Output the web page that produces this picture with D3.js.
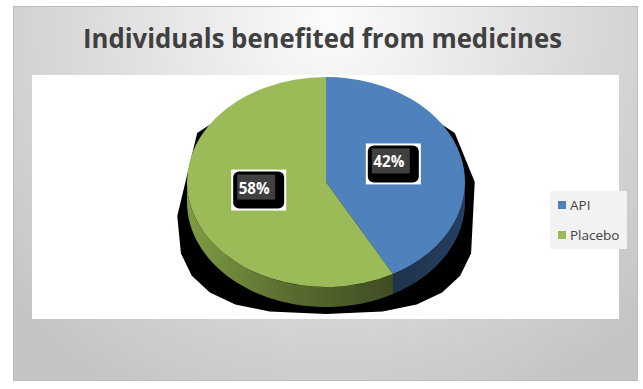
<!DOCTYPE html>
<html>
<head>
<meta charset="utf-8">
<script src="https://cdn.jsdelivr.net/npm/d3@7"></script>
<style>
  html, body { margin: 0; padding: 0; background: #fff; }
  svg { display: block; }
</style>
</head>
<body>
<script>
// chart data
const categories = ["API", "Placebo"];
const values = [42, 58];
const labels = ["42%", "58%"];
const title = "Individuals benefited from medicines";

const width = 643;
const height = 389;

// pie geometry (3D look: flattened ellipse + side wall)
const cx = 326, cy = 182;
const rx = 139, ry = 105;
const depth = 20;

const color = d3.scaleOrdinal()
    .domain(categories)
    .range(["#4F81BD", "#9BBB59"]);

const sideColor = d3.scaleOrdinal()
    .domain(categories)
    .range(["url(#sideBlue)", "url(#sideGreen)"]);

const svg = d3.select("body").append("svg")
    .attr("width", width)
    .attr("height", height)
    .attr("viewBox", [0, 0, width, height]);

const defs = svg.append("defs");

const frameGrad = defs.append("radialGradient")
    .attr("id", "frameGrad")
    .attr("gradientUnits", "userSpaceOnUse")
    .attr("cx", 330).attr("cy", 20).attr("r", 430);
frameGrad.append("stop").attr("offset", 0).attr("stop-color", "#fcfcfc");
frameGrad.append("stop").attr("offset", 0.55).attr("stop-color", "#dcdcdc");
frameGrad.append("stop").attr("offset", 1).attr("stop-color", "#c4c4c4");

const greenSide = defs.append("linearGradient")
    .attr("id", "sideGreen")
    .attr("gradientUnits", "userSpaceOnUse")
    .attr("x1", cx - rx).attr("x2", cx + 80).attr("y1", 0).attr("y2", 0);
greenSide.append("stop").attr("offset", 0).attr("stop-color", "#7f9c45");
greenSide.append("stop").attr("offset", 0.45).attr("stop-color", "#5a6e30");
greenSide.append("stop").attr("offset", 1).attr("stop-color", "#3c4821");

const blueSide = defs.append("linearGradient")
    .attr("id", "sideBlue")
    .attr("gradientUnits", "userSpaceOnUse")
    .attr("x1", cx + 60).attr("x2", cx + rx).attr("y1", 0).attr("y2", 0);
blueSide.append("stop").attr("offset", 0).attr("stop-color", "#1d3149");
blueSide.append("stop").attr("offset", 1).attr("stop-color", "#263f61");

// outer frame and plot area
svg.append("rect")
    .attr("x", 13.5).attr("y", 6.5)
    .attr("width", 624).attr("height", 374)
    .attr("fill", "url(#frameGrad)")
    .attr("stroke", "#bcbcbc")
    .attr("stroke-width", 1);

svg.append("rect")
    .attr("x", 32).attr("y", 75)
    .attr("width", 587).attr("height", 244)
    .attr("fill", "#ffffff");

// title
svg.append("text")
    .attr("x", 322.5)
    .attr("y", 48)
    .attr("text-anchor", "middle")
    .attr("fill", "#404040")
    .attr("font-family", "'Open Sans', 'Noto Sans', sans-serif")
    .attr("font-weight", "bold")
    .attr("font-size", 26)
    .attr("textLength", 479)
    .attr("lengthAdjust", "spacingAndGlyphs")
    .text(title);

// shadow behind the pie (coarse upper outline, smoother lower outline)
const pt = (a, r1, r2, c) => [cx + r1 * Math.sin(a), c - r2 * Math.cos(a)];
const shadowAngles = [0, 30, 60, 90].concat(d3.range(105, 270, 15), [270, 300, 330]);
const shadowPts = shadowAngles.map(deg => {
    const a = deg * Math.PI / 180;
    const s = Math.sin(a), c = Math.cos(a);
    const srx = rx * 1.07;
    if (c >= 0) return [cx + srx * s, cy - 98 * c];
    const e = 2 / 2.8;
    const sx = Math.sign(s) * Math.pow(Math.abs(s), e);
    const sy = Math.pow(Math.abs(c), e);
    return [cx + srx * sx, cy + 34 + 98 * sy];
});
svg.append("path")
    .attr("d", d3.line()(shadowPts) + "Z")
    .attr("fill", "#000");

const pie = d3.pie().sort(null).value(d => d.value);
const arcs = pie(categories.map((c, i) => ({ name: c, value: values[i] })));

// side walls (front half only)
const sidePath = d => {
    const a0 = Math.max(d.startAngle, Math.PI / 2);
    const a1 = Math.min(d.endAngle, 3 * Math.PI / 2);
    if (a0 >= a1) return null;
    const steps = d3.range(0, 41).map(i => a0 + (a1 - a0) * i / 40);
    const top = steps.map(a => pt(a, rx, ry, cy));
    const bottom = steps.slice().reverse().map(a => pt(a, rx, ry, cy + depth));
    return d3.line()(top.concat(bottom)) + "Z";
};

svg.append("g")
    .selectAll("path")
    .data(arcs)
    .join("path")
    .attr("d", sidePath)
    .attr("fill", d => sideColor(d.data.name));

// top face: d3.arc squashed vertically
const arc = d3.arc().innerRadius(0).outerRadius(rx);
svg.append("g")
    .attr("transform", `translate(${cx},${cy}) scale(1,${ry / rx})`)
    .selectAll("path")
    .data(arcs)
    .join("path")
    .attr("d", arc)
    .attr("fill", d => color(d.data.name));

// data labels
const boxW = 55, boxH = 41;
const lab = svg.append("g")
    .selectAll("g")
    .data(arcs)
    .join("g")
    .attr("transform", d => {
        const [x, y] = arc.centroid(d);
        return `translate(${cx + x - boxW / 2},${cy + y * ry / rx - 5 - boxH / 2})`;
    });

lab.append("rect")
    .attr("width", boxW).attr("height", boxH)
    .attr("fill", "#fff");
lab.append("rect")
    .attr("x", 2).attr("y", 2)
    .attr("width", boxW - 4).attr("height", boxH - 4)
    .attr("rx", 6)
    .attr("fill", "#000");
lab.append("rect")
    .attr("x", 6).attr("y", 5)
    .attr("width", 38).attr("height", 25)
    .attr("fill", "#404040");
lab.append("text")
    .attr("x", 23)
    .attr("y", 24)
    .attr("text-anchor", "middle")
    .attr("fill", "#fff")
    .attr("font-family", "'Open Sans', 'Noto Sans', sans-serif")
    .attr("font-weight", "bold")
    .attr("font-size", 16)
    .attr("textLength", 31)
    .attr("lengthAdjust", "spacingAndGlyphs")
    .text((d, i) => labels[i]);

// legend
const legend = svg.append("g").attr("transform", "translate(550,191)");
legend.append("rect")
    .attr("width", 77).attr("height", 58)
    .attr("fill", "#f2f2f2");

const item = legend.selectAll("g")
    .data(categories)
    .join("g")
    .attr("transform", (d, i) => `translate(8,${14 + i * 30})`);

item.append("rect")
    .attr("x", 0).attr("y", -4)
    .attr("width", 8).attr("height", 8)
    .attr("fill", d => color(d));

item.append("text")
    .attr("x", 12)
    .attr("y", 5)
    .attr("fill", "#404040")
    .attr("font-family", "'Open Sans', 'Noto Sans', sans-serif")
    .attr("font-size", 13.5)
    .text(d => d);
</script>
</body>
</html>
